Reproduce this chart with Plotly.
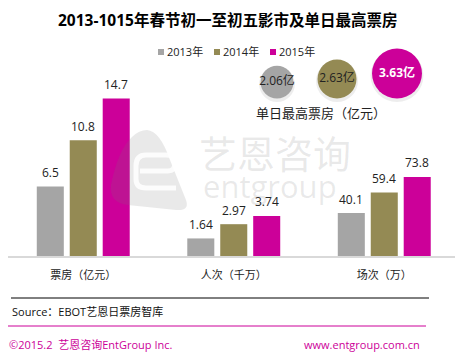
import plotly.graph_objects as go

# ---------------- data ----------------
categories = ["票房（亿元）", "人次（千万）", "场次（万）"]
years = ["2013年", "2014年", "2015年"]
values_2013 = [6.5, 1.64, 40.1]
values_2014 = [10.8, 2.97, 59.4]
values_2015 = [14.7, 3.74, 73.8]
display_scale = [1, 1, 0.1]          # 场次 drawn at 1/10 height, as in the original
peak_day = [2.06, 2.63, 3.63]         # 单日最高票房（亿元）
title = "2013-1015年春节初一至初五影市及单日最高票房"
source = "Source：EBOT艺恩日票房智库"
footer_left = "©2015.2  艺恩咨询EntGroup Inc."
footer_right = "www.entgroup.com.cn"

colors = ["#A5A5A5", "#948A54", "#CC0099"]
FONT = "Open Sans, Noto Sans CJK SC, sans-serif"
W, H = 455, 358


def px(x):
    return x / W


def py(y):
    return 1 - y / H


series = [values_2013, values_2014, values_2015]
fig = go.Figure()
x_idx = list(range(len(categories)))
for name, vals, c in zip(years, series, colors):
    fig.add_trace(go.Bar(
        x=x_idx, y=[v * s for v, s in zip(vals, display_scale)],
        name=name, marker=dict(color=c, line=dict(width=0)),
        showlegend=False, hoverinfo="skip",
    ))

annotations = []
# value labels above bars
for k, vals in enumerate(series):
    for i, v in enumerate(vals):
        annotations.append(dict(
            x=i, y=v * display_scale[i], xref="x", yref="y",
            text=str(v), showarrow=False, xshift=(k - 1) * 33, yshift=14,
            xanchor="center", yanchor="middle",
            font=dict(family=FONT, size=12, color="#222")))

# bubbles: peak single-day box office
sizes = [11 * v + 10 for v in peak_day]
bottom = 98.5
fig.add_trace(go.Scatter(
    x=[0, 1, 2], y=[bottom + 2 - s / 2 for s in sizes], xaxis="x2", yaxis="y2",
    mode="markers", marker=dict(size=[s + 3 for s in sizes], color="rgba(0,0,0,0.10)", line=dict(width=0)),
    showlegend=False, hoverinfo="skip"))
fig.add_trace(go.Scatter(
    x=[0, 1, 2], y=[bottom - s / 2 for s in sizes], xaxis="x2", yaxis="y2",
    mode="markers+text",
    marker=dict(size=sizes, color=colors, line=dict(width=0), opacity=1),
    text=[f"{v}亿" if v != max(peak_day) else f"<b>{v}亿</b>" for v in peak_day],
    textposition="middle center",
    textfont=dict(family=FONT, size=12, color=["#222", "#222", "white"]),
    showlegend=False, hoverinfo="skip"))


def ann(x, y, text, size, color="#222", xanchor="center", family=FONT):
    return dict(x=px(x), y=py(y), xref="paper", yref="paper", text=text,
                showarrow=False, xanchor=xanchor, yanchor="middle",
                font=dict(family=family, size=size, color=color))


# manual legend
shapes = []
for k, (name, c) in enumerate(zip(years, colors)):
    x0 = 158 + k * 56
    annotations.append(ann(x0 + 7, 52, name, 11, xanchor="left"))
    shapes.append(dict(type="rect", xref="paper", yref="paper",
                       x0=px(x0), x1=px(x0 + 6), y0=py(55), y1=py(49),
                       fillcolor=c, line=dict(width=0)))

wm = "rgba(120,120,120,0.16)"
annotations += [
    ann(227, 20, f"<b>{title}</b>", 15.5, color="#000"),
    ann(321, 113, "单日最高票房（亿元）", 13),
    ann(10, 311, source, 11, color="#111", xanchor="left"),
    ann(7, 344, footer_left, 11, color="#CC0099", xanchor="left"),
    ann(422, 344, footer_right, 11, color="#CC0099", xanchor="right"),
    # watermark
    ann(275, 153, "艺恩咨询", 38, color=wm),
    ann(270, 186, "entgroup", 31, color=wm, family="Open Sans, sans-serif"),
]

shapes += [
    dict(type="line", xref="paper", yref="paper", x0=px(11), x1=px(429), y0=py(298), y1=py(298),
         line=dict(color="#000", width=1)),
    dict(type="line", xref="paper", yref="paper", x0=px(8), x1=px(426), y0=py(326), y1=py(326),
         line=dict(color="#CC0099", width=1)),
]

logo = (f"M {px(147)} {py(130)} Q {px(160)} {py(131)} {px(170)} {py(160)} "
        f"L {px(186)} {py(200)} Q {px(190)} {py(211)} {px(176)} {py(210)} "
        f"L {px(128)} {py(205)} Q {px(109)} {py(203)} {px(111)} {py(185)} "
        f"Q {px(118)} {py(150)} {px(132)} {py(137)} Q {px(139)} {py(130)} {px(147)} {py(130)} Z")
shapes.append(dict(type="path", xref="paper", yref="paper", path=logo,
                   fillcolor=wm, line=dict(width=0), layer="above"))
e_path = (f"M {px(140)} {py(171)} L {px(168)} {py(171)} Q {px(175)} {py(171)} {px(175)} {py(163)} "
          f"Q {px(175)} {py(155)} {px(166)} {py(155)} L {px(146)} {py(155)} "
          f"Q {px(136)} {py(155)} {px(136)} {py(166)} L {px(136)} {py(179)} "
          f"Q {px(136)} {py(188)} {px(146)} {py(188)} L {px(176)} {py(188)}")
shapes.append(dict(type="path", xref="paper", yref="paper", path=e_path,
                   line=dict(color="rgba(255,255,255,0.85)", width=5), layer="above"))

fig.update_layout(
    width=W, height=H, margin=dict(l=0, r=0, t=0, b=0),
    paper_bgcolor="white", plot_bgcolor="rgba(0,0,0,0)",
    barmode="group", bargap=0.343, bargroupgap=0.18,
    xaxis=dict(domain=[px(8), 1], range=[-0.5, 2.47], tickmode="array",
               tickvals=x_idx, ticktext=categories, showgrid=False, zeroline=False,
               showline=True, linecolor="#D9D9D9", linewidth=1.5, ticks="",
               ticklabelstandoff=8,
               tickfont=dict(family=FONT, size=11, color="#222"), fixedrange=True),
    yaxis=dict(domain=[1 - 256 / H, 1 - 60 / H], range=[0, 18.3], visible=False,
               showgrid=False, zeroline=False, fixedrange=True),
    xaxis2=dict(domain=[0, 1], range=[-277 / 60, (W - 277) / 60], visible=False,
                anchor="y2", fixedrange=True),
    yaxis2=dict(domain=[0, 1], range=[H, 0], visible=False, anchor="x2", fixedrange=True),
    annotations=annotations, shapes=shapes, showlegend=False,
)

fig.write_html("out.html", config={"displayModeBar": False})

# remove the browser's default page margin so the figure sits at (0, 0)
with open("out.html", encoding="utf-8") as f:
    html = f.read()
html = html.replace("<head>", "<head><style>html,body{margin:0;padding:0;overflow:hidden;}</style>", 1)
with open("out.html", "w", encoding="utf-8") as f:
    f.write(html)
